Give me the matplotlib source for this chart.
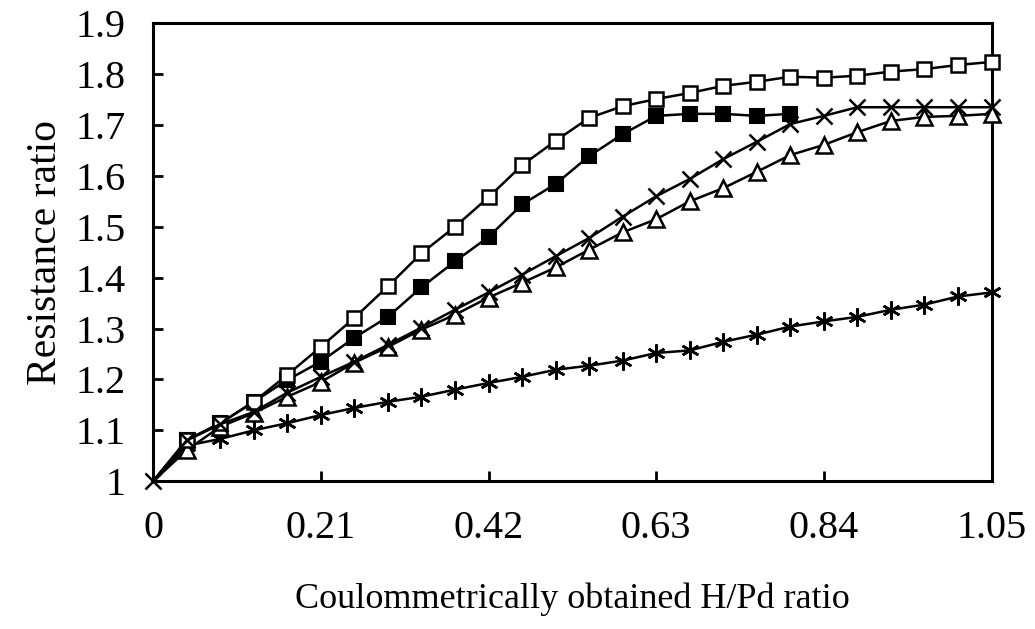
import numpy as np
import matplotlib
matplotlib.use("Agg")
import matplotlib.pyplot as plt
from matplotlib.ticker import FuncFormatter

plt.rcParams['font.family'] = ['Liberation Serif', 'DejaVu Serif']

# H/Pd ratio, step 0.042
x = np.round(np.arange(26) * 0.042, 3)

open_sq = [1.0, 1.081, 1.114, 1.156, 1.209, 1.264, 1.321, 1.383, 1.448, 1.50,
           1.558, 1.621, 1.669, 1.714, 1.737, 1.751, 1.763, 1.777, 1.785, 1.795,
           1.793, 1.797, 1.805, 1.81, 1.818, 1.824]
filled_sq = [1.0, 1.08, 1.114, 1.156, 1.199, 1.235, 1.282, 1.323, 1.381, 1.432,
             1.48, 1.544, 1.584, 1.639, 1.682, 1.718, 1.722, 1.722, 1.718, 1.722]
cross = [1.0, 1.08, 1.112, 1.136, 1.174, 1.205, 1.235, 1.268, 1.302, 1.337,
         1.371, 1.406, 1.442, 1.478, 1.52, 1.56, 1.594, 1.633, 1.667, 1.702,
         1.718, 1.735, 1.735, 1.735, 1.735, 1.735]
triangle = [1.0, 1.061, 1.107, 1.134, 1.166, 1.195, 1.233, 1.264, 1.298, 1.327,
            1.361, 1.39, 1.42, 1.455, 1.489, 1.515, 1.55, 1.576, 1.608, 1.641,
            1.661, 1.686, 1.708, 1.716, 1.718, 1.722]
star = [1.0, 1.07, 1.083, 1.1, 1.114, 1.13, 1.144, 1.156, 1.166, 1.18,
        1.193, 1.205, 1.219, 1.227, 1.237, 1.252, 1.257, 1.274, 1.288, 1.304,
        1.314, 1.323, 1.337, 1.347, 1.363, 1.371]

fig = plt.figure(figsize=(10.35, 6.29), dpi=100)
ax = fig.add_axes([0.148, 0.235, 0.81, 0.728])

lw = 1.8
skip0 = slice(1, None)
ax.plot(x, star, color='black', lw=lw, marker=(6, 2, 0), ms=13, mew=1.8,
        markevery=skip0, clip_on=False, zorder=2)
ax.plot(x, triangle, color='black', lw=lw, marker='^', ms=11, mfc='white', mew=1.8,
        markevery=skip0, clip_on=False, zorder=3)
ax.plot(x, cross, color='black', lw=lw, marker='x', ms=12, mew=1.8,
        clip_on=False, zorder=7)
ax.plot(x[:len(filled_sq)], filled_sq, color='black', lw=lw, marker='s', ms=10,
        mfc='black', mew=1.5, markevery=skip0, clip_on=False, zorder=5)
ax.plot(x, open_sq, color='black', lw=lw, marker='s', ms=10.5, mfc='white', mew=1.8,
        markevery=skip0, clip_on=False, zorder=6)

ax.set_xlim(0, 1.05)
ax.set_ylim(1, 1.9)
ax.set_xticks([0, 0.21, 0.42, 0.63, 0.84, 1.05])
ax.set_yticks(np.round(np.arange(1.0, 1.91, 0.1), 1))
ax.xaxis.set_major_formatter(FuncFormatter(lambda v, p: '%g' % round(v, 2)))
ax.yaxis.set_major_formatter(FuncFormatter(lambda v, p: '%g' % round(v, 1)))
ax.tick_params(direction='in', length=7, width=2, labelsize=29)
ax.tick_params(axis='x', pad=21)
ax.tick_params(axis='y', pad=20)

for s in ax.spines.values():
    s.set_linewidth(2.2)

ax.set_xlabel('Coulommetrically obtained H/Pd ratio', fontsize=26, labelpad=25)
ax.set_ylabel('Resistance ratio', fontsize=30, labelpad=7)

fig.savefig('out.png', dpi=100)
